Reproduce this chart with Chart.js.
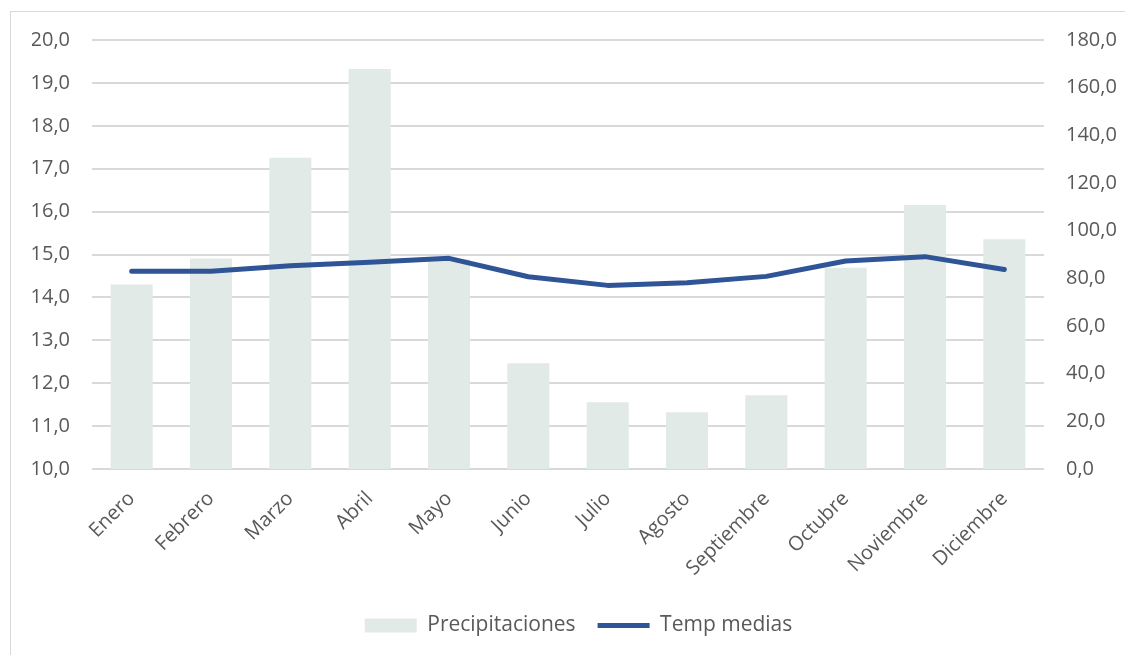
<!DOCTYPE html>
<html lang="es">
<head>
<meta charset="utf-8">
<title>Precipitaciones y temperaturas medias</title>
<script src="https://cdn.jsdelivr.net/npm/chart.js@4"></script>
<style>
  html, body { margin: 0; padding: 0; background: #ffffff; }
  #wrap { position: relative; width: 1125px; height: 655px; overflow: hidden; }
  #frame { position: absolute; left: 10px; top: 11px; width: 1200px; height: 700px;
           border: 1px solid #d9d9d9; box-sizing: border-box; }
  #chart { position: absolute; left: 0; top: 0; }
</style>
</head>
<body>
<div id="wrap">
  <div id="frame"></div>
  <canvas id="chart" width="1125" height="655"></canvas>
</div>
<script>
// Monthly categories
const meses = ['Enero', 'Febrero', 'Marzo', 'Abril', 'Mayo', 'Junio', 'Julio',
               'Agosto', 'Septiembre', 'Octubre', 'Noviembre', 'Diciembre'];

// Precipitation (right axis)
const precipitaciones = [77.4, 88.3, 130.6, 167.8, 88.0, 44.4, 28.0, 23.8, 30.9, 84.4, 110.8, 96.4];

// Mean temperature (left axis)
const tempMedias = [14.61, 14.61, 14.74, 14.82, 14.91, 14.48, 14.28, 14.34, 14.49, 14.85, 14.95, 14.65];

// Axis ranges
const tempEje = { min: 10, max: 20, step: 1 };
const precipEje = { min: 0, max: 180, step: 20 };

const fmt = v => Number(v).toFixed(1).replace('.', ',');

const textColor = '#595959';
const gridColor = '#d9d9d9';
const fontFamily = '"Open Sans", "DejaVu Sans", sans-serif';
const fontSize = 20;

new Chart(document.getElementById('chart'), {
  data: {
    labels: meses,
    datasets: [
      {
        type: 'line',
        label: 'Temp medias',
        data: tempMedias,
        yAxisID: 'yTemp',
        borderColor: '#2f5597',
        backgroundColor: '#2f5597',
        borderWidth: 5,
        borderCapStyle: 'round',
        borderJoinStyle: 'round',
        pointRadius: 0,
        pointHoverRadius: 0,
        pointStyle: 'line',
        tension: 0
      },
      {
        type: 'bar',
        label: 'Precipitaciones',
        data: precipitaciones,
        yAxisID: 'yPrecip',
        backgroundColor: '#e1eae6',
        borderWidth: 0,
        pointStyle: 'rect',
        categoryPercentage: 1,
        barPercentage: 0.53
      }
    ]
  },
  options: {
    responsive: false,
    animation: false,
    events: [],
    layout: { padding: { top: 40, left: 32, right: 0, bottom: 9 } },
    plugins: {
      tooltip: { enabled: false },
      legend: {
        position: 'bottom',
        labels: {
          usePointStyle: true,
          pointStyleWidth: 52,
          boxHeight: 14,
          padding: 22,
          color: textColor,
          font: { family: fontFamily, size: 21 },
          sort: (a, b) => b.datasetIndex - a.datasetIndex
        }
      }
    },
    scales: {
      x: {
        grid: { display: false },
        border: { display: false },
        ticks: {
          color: textColor,
          font: { family: fontFamily, size: fontSize },
          maxRotation: 45,
          minRotation: 45,
          padding: 10,
          autoSkip: false
        },
        afterFit: s => { s.height = 124; }
      },
      yTemp: {
        position: 'left',
        min: tempEje.min,
        max: tempEje.max,
        grid: { color: gridColor, lineWidth: 2, drawTicks: false },
        border: { display: false },
        ticks: {
          stepSize: tempEje.step,
          color: textColor,
          font: { family: fontFamily, size: fontSize },
          padding: 22,
          callback: v => fmt(v)
        },
        afterFit: s => { s.width = 60; }
      },
      yPrecip: {
        position: 'right',
        min: precipEje.min,
        max: precipEje.max,
        grid: { display: false, drawTicks: false },
        border: { display: false },
        ticks: {
          stepSize: precipEje.step,
          color: textColor,
          font: { family: fontFamily, size: fontSize },
          padding: 22,
          callback: v => fmt(v)
        },
        afterFit: s => { s.width = 81; }
      }
    }
  }
});
</script>
</body>
</html>
